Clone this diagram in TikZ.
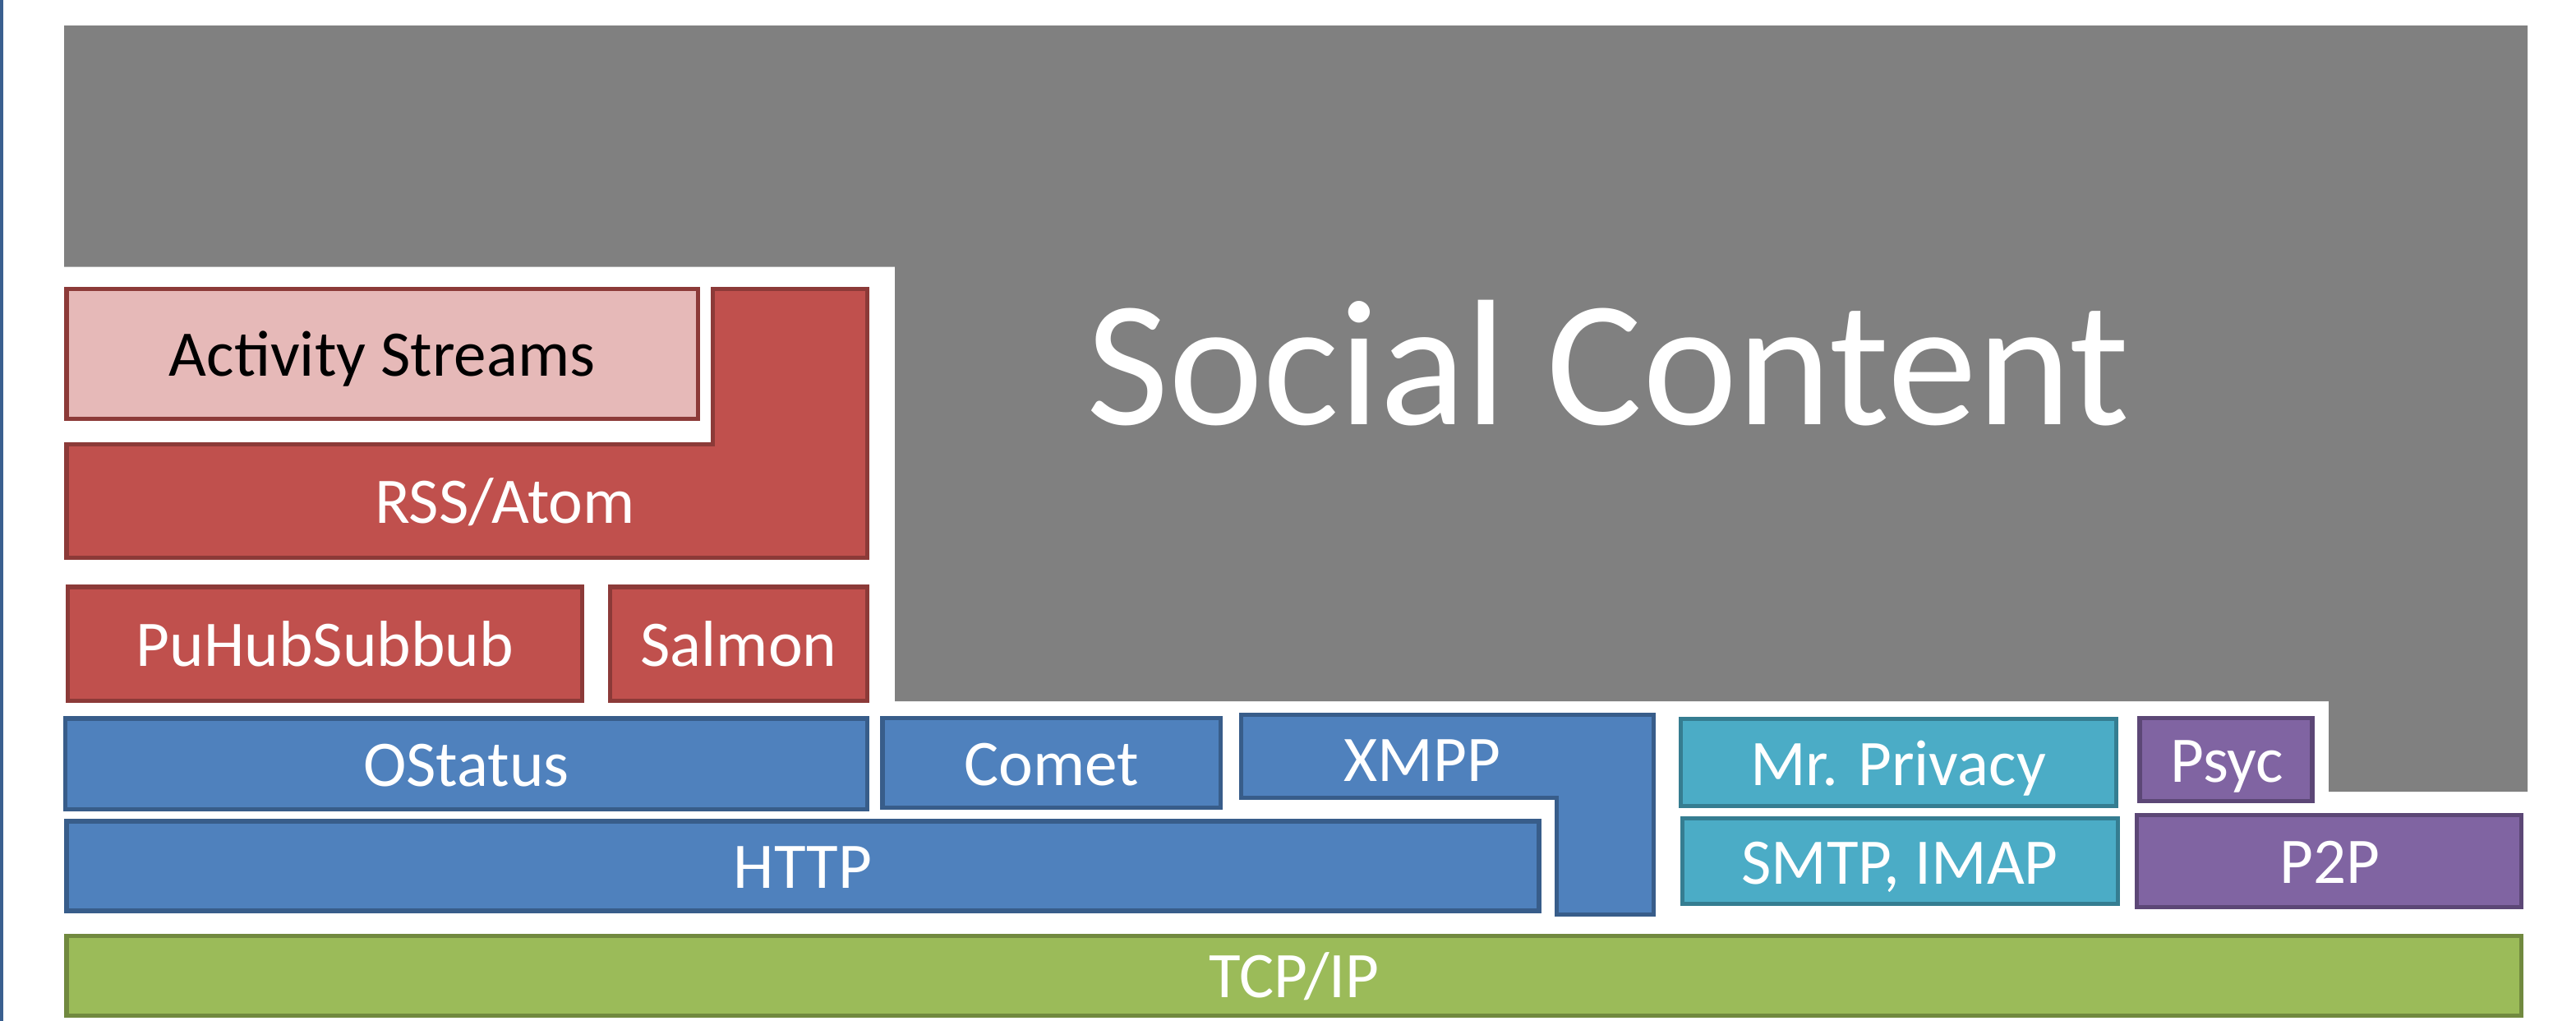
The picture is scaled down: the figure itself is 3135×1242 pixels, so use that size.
\documentclass[tikz,border=0pt]{standalone}
\usepackage{fontspec}
\setmainfont{Carlito}
\definecolor{graybg}{HTML}{808080}
\definecolor{redfill}{HTML}{C0504D}
\definecolor{redline}{HTML}{8C3A38}
\definecolor{pinkfill}{HTML}{E6B9B8}
\definecolor{bluefill}{HTML}{4F81BD}
\definecolor{blueline}{HTML}{385D8A}
\definecolor{tealfill}{HTML}{4BACC6}
\definecolor{tealline}{HTML}{357D91}
\definecolor{purplefill}{HTML}{8064A2}
\definecolor{purpleline}{HTML}{5C4776}
\definecolor{greenfill}{HTML}{9BBB59}
\definecolor{greenline}{HTML}{71893F}
\definecolor{framebl}{HTML}{3A5F8F}
\tikzset{
  redbox/.style={fill=redfill,draw=redline,line width=1.5pt},
  pinkbox/.style={fill=pinkfill,draw=redline,line width=1.5pt},
  bluebox/.style={fill=bluefill,draw=blueline,line width=1.5pt},
  tealbox/.style={fill=tealfill,draw=tealline,line width=1.5pt},
  purplebox/.style={fill=purplefill,draw=purpleline,line width=1.5pt},
  greenbox/.style={fill=greenfill,draw=greenline,line width=1.5pt},
  lbl/.style={text=white,inner sep=0pt,anchor=base,font=\fontsize{22.5}{27}\selectfont},
  lblk/.style={lbl,text=black},
  big/.style={text=white,inner sep=0pt,anchor=base,font=\fontsize{62}{70}\selectfont}
}
\begin{document}
\begin{tikzpicture}[x=0.01cm,y=-0.01cm]
\useasboundingbox (0,0) rectangle (3135,1242);
% left frame line
\fill[framebl] (0,0) rectangle (4,1242);
% social content background
\fill[graybg] (78,31) -- (3076,31) -- (3076,963) -- (2834,963) -- (2834,853)
  -- (1089,853) -- (1089,324.5) -- (78,324.5) -- cycle;
\node[big] (social) at (1957,516.6) {Social Content};
% red group
\draw[pinkbox] (81,351.5) rectangle (849.5,509.5);
\node[lblk] (act) at (465,457.6) {Activity Streams};
\draw[redbox] (81,540.5) -- (867.5,540.5) -- (867.5,351.5) -- (1055.5,351.5)
  -- (1055.5,678.5) -- (81,678.5) -- cycle;
\node[lbl] (rss) at (614.5,636) {RSS/Atom};
\draw[redbox] (82.5,714) rectangle (708.5,852.5);
\node[lbl] (puhub) at (395.5,810.4) {PuHubSubbub};
\draw[redbox] (742.5,714) rectangle (1055.5,852.5);
\node[lbl] (salmon) at (899,810.4) {Salmon};
% blue group
\draw[bluebox] (79.5,874) rectangle (1055.5,984.2);
\node[lbl] (ostatus) at (567.5,956.5) {OStatus};
\draw[bluebox] (1074,873.2) rectangle (1485.5,982.5);
\node[lbl] (comet) at (1280,955) {Comet};
\draw[bluebox] (1510.5,869.2) -- (2012.5,869.2) -- (2012.5,1112.5) -- (1894.5,1112.5)
  -- (1894.5,970.2) -- (1510.5,970.2) -- cycle;
\node[lbl] (xmpp) at (1731,950.7) {XMPP};
\draw[bluebox] (81,999) rectangle (1873,1108);
\node[lbl] (http) at (977,1080.3) {HTTP};
% teal group
\draw[tealbox] (2045.5,874.5) rectangle (2575.5,980.5);
\node[lbl] (mrp) at (2310,955) {Mr. Privacy};
\draw[tealbox] (2047.5,995.5) rectangle (2577.5,1099.5);
\node[lbl] (smtp) at (2312,1075) {SMTP, IMAP};
% purple group
\draw[purplebox] (2604,873.2) rectangle (2814,974.2);
\node[lbl] (psyc) at (2710,951.7) {Psyc};
\draw[purplebox] (2600.5,991.2) rectangle (3068.5,1103.5);
\node[lbl] (p2p) at (2835,1074) {P2P};
% base
\draw[greenbox] (81,1138.2) rectangle (3068.5,1235.5);
\node[lbl] (tcp) at (1575,1213.3) {TCP/IP};
\end{tikzpicture}
\end{document}
